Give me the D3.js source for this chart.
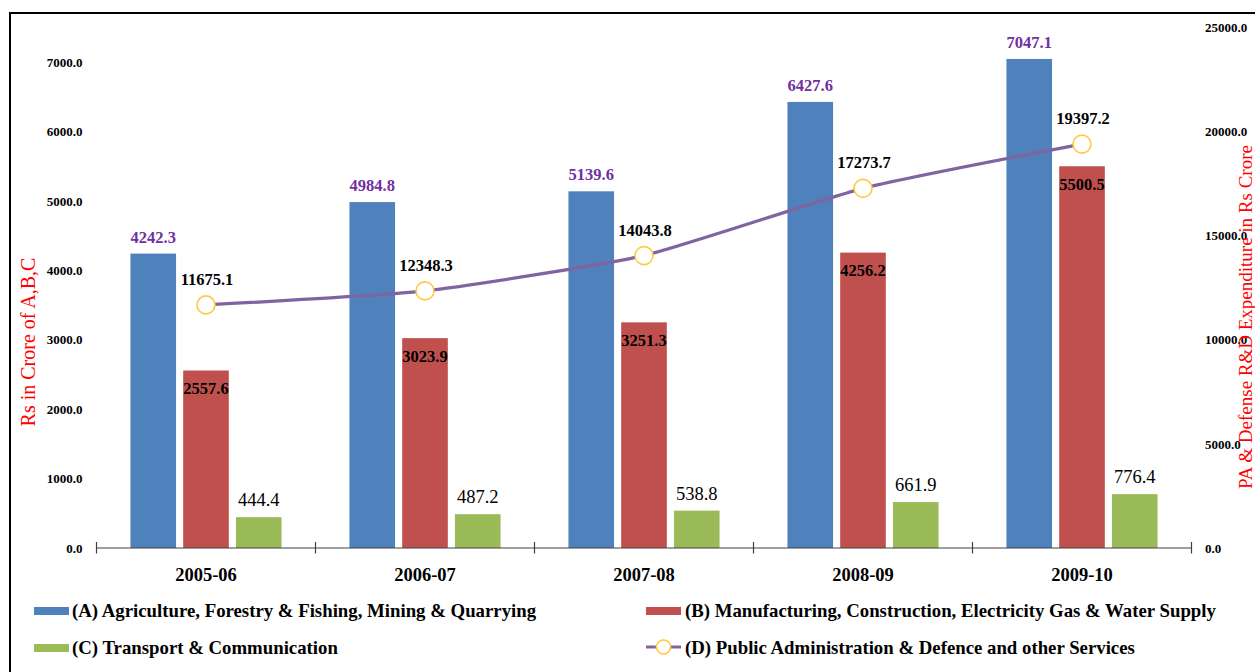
<!DOCTYPE html>
<html>
<head>
<meta charset="utf-8">
<script src="https://cdn.jsdelivr.net/npm/d3@7"></script>
<style>
  html, body { margin: 0; padding: 0; background: #fff; }
  svg { display: block; font-family: "Liberation Serif", "Times New Roman", serif; }
</style>
</head>
<body>
<svg id="chart" width="1255" height="672"></svg>
<script>
// ---- data ----
const categories = ["2005-06", "2006-07", "2007-08", "2008-09", "2009-10"];
const seriesA = [4242.3, 4984.8, 5139.6, 6427.6, 7047.1];   // Agriculture ...
const seriesB = [2557.6, 3023.9, 3251.3, 4256.2, 5500.5];   // Manufacturing ...
const seriesC = [444.4, 487.2, 538.8, 661.9, 776.4];        // Transport ...
const seriesD = [11675.1, 12348.3, 14043.8, 17273.7, 19397.2]; // Public Admin (right axis)
const leftTicks = [0, 1000, 2000, 3000, 4000, 5000, 6000, 7000];
const rightTicks = [0, 5000, 10000, 15000, 20000, 25000];
const seriesNames = [
  "(A) Agriculture, Forestry & Fishing, Mining & Quarrying",
  "(B) Manufacturing, Construction, Electricity Gas & Water Supply",
  "(C) Transport & Communication",
  "(D) Public Administration & Defence and other Services"
];
const leftTitle = "Rs in Crore of A,B,C";
const rightTitle = "PA & Defense R&D Expenditure in Rs Crore";

// ---- styles ----
const colA = "#4F81BD", colB = "#C0504D", colC = "#9BBB59", colD = "#8064A2";
const markerStroke = "#FFC940";

const svg = d3.select("#chart");
const X0 = 96.5, X1 = 1191.5, Y0 = 548, YTOP = 27.5;

// frame lines (top and left)
svg.append("rect").attr("x", 9).attr("y", 12).attr("width", 1255 - 9).attr("height", 2).attr("fill", "#000");
svg.append("rect").attr("x", 9).attr("y", 12).attr("width", 2).attr("height", 672 - 12).attr("fill", "#000");

const x = d3.scaleBand().domain(categories).range([X0, X1]).paddingInner(0).paddingOuter(0);
const bw = x.bandwidth();
const xs = d3.scaleBand().domain(["A", "B", "C"]).range([bw * 0.155, bw * 0.845]).paddingInner(0.135);
const yL = d3.scaleLinear().domain([0, 7500]).range([Y0, YTOP]);
const yR = d3.scaleLinear().domain([0, 25000]).range([Y0, YTOP]);

// left axis labels
const gL = svg.append("g").attr("transform", `translate(${X0},0)`)
  .call(d3.axisLeft(yL).tickValues(leftTicks).tickFormat(d3.format(".1f")).tickSize(0).tickPadding(14));
gL.select(".domain").remove();
gL.selectAll("text").attr("font-family", "Liberation Serif").attr("font-weight", "bold").attr("font-size", 13).attr("fill", "#000");

// right axis labels
const gR = svg.append("g").attr("transform", `translate(${X1},0)`)
  .call(d3.axisRight(yR).tickValues(rightTicks).tickFormat(d3.format(".1f")).tickSize(0).tickPadding(13.5));
gR.select(".domain").remove();
gR.selectAll("text").attr("font-family", "Liberation Serif").attr("font-weight", "bold").attr("font-size", 13).attr("fill", "#000");

// bars
const bars = [
  { key: "A", vals: seriesA, color: colA },
  { key: "B", vals: seriesB, color: colB },
  { key: "C", vals: seriesC, color: colC }
];
bars.forEach(s => {
  svg.append("g").selectAll("rect").data(categories).join("rect")
    .attr("x", (c) => x(c) + xs(s.key))
    .attr("width", xs.bandwidth())
    .attr("y", (c, i) => yL(s.vals[i]))
    .attr("height", (c, i) => Y0 - yL(s.vals[i]))
    .attr("fill", s.color);
});

// x axis line
const gX = svg.append("g").attr("transform", `translate(0,${Y0})`);
gX.append("line").attr("x1", X0).attr("x2", X1).attr("y1", 0).attr("y2", 0).attr("stroke", "#404040").attr("stroke-width", 1.2);
const bounds = categories.map(c => x(c)).concat([x.range()[1]]);
gX.selectAll("line.tick").data(bounds).join("line").attr("class", "tick")
  .attr("x1", d => d).attr("x2", d => d).attr("y1", -6).attr("y2", 5.5)
  .attr("stroke", "#404040").attr("stroke-width", 1.2);
gX.selectAll("text").data(categories).join("text")
  .attr("x", c => x(c) + bw / 2).attr("y", 33)
  .attr("text-anchor", "middle").attr("font-weight", "bold").attr("font-size", 18.5)
  .text(c => c);

// line D
const lineGen = d3.line()
  .x((d, i) => x(categories[i]) + bw / 2)
  .y(d => yR(d))
  .curve(d3.curveCardinal.tension(0.5));
svg.append("path").datum(seriesD).attr("d", lineGen)
  .attr("fill", "none").attr("stroke", colD).attr("stroke-width", 3.2);
svg.append("g").selectAll("circle").data(seriesD).join("circle")
  .attr("cx", (d, i) => x(categories[i]) + bw / 2).attr("cy", d => yR(d)).attr("r", 9)
  .attr("fill", "#fff").attr("stroke", markerStroke).attr("stroke-width", 1.6);

// labels
const lab = svg.append("g");
lab.selectAll("text.la").data(seriesA).join("text").attr("class", "la")
  .attr("x", (d, i) => x(categories[i]) + xs("A") + xs.bandwidth() / 2)
  .attr("y", d => yL(d) - 11)
  .attr("text-anchor", "middle").attr("font-weight", "bold").attr("font-size", 16.5).attr("fill", "#7030A0")
  .text(d => d.toFixed(1));
lab.selectAll("text.lb").data(seriesB).join("text").attr("class", "lb")
  .attr("x", (d, i) => x(categories[i]) + xs("B") + xs.bandwidth() / 2)
  .attr("y", d => yL(d) + 23.5)
  .attr("text-anchor", "middle").attr("font-weight", "bold").attr("font-size", 16.5).attr("fill", "#000")
  .text(d => d.toFixed(1));
lab.selectAll("text.lc").data(seriesC).join("text").attr("class", "lc")
  .attr("x", (d, i) => x(categories[i]) + xs("C") + xs.bandwidth() / 2)
  .attr("y", d => yL(d) - 11)
  .attr("text-anchor", "middle").attr("font-size", 18.5).attr("fill", "#000")
  .text(d => d.toFixed(1));
lab.selectAll("text.ld").data(seriesD).join("text").attr("class", "ld")
  .attr("x", (d, i) => x(categories[i]) + bw / 2 + 1)
  .attr("y", d => yR(d) - 20)
  .attr("text-anchor", "middle").attr("font-weight", "bold").attr("font-size", 16.5).attr("fill", "#000")
  .text(d => d.toFixed(1));

// axis titles
svg.append("text").attr("transform", "translate(35,342) rotate(-90)")
  .attr("text-anchor", "middle").attr("font-size", 20).attr("fill", "#FF0000").text(leftTitle);
svg.append("text").attr("transform", "translate(1252,317) rotate(-90)")
  .attr("text-anchor", "middle").attr("font-size", 19).attr("fill", "#FF0000").text(rightTitle);

// legend
const leg = svg.append("g").attr("font-weight", "bold").attr("font-size", 18.8);
const legItems = [
  { name: seriesNames[0], color: colA, type: "rect", sx: 34, tx: 72, y: 617 },
  { name: seriesNames[1], color: colB, type: "rect", sx: 646, tx: 685, y: 617 },
  { name: seriesNames[2], color: colC, type: "rect", sx: 34, tx: 72, y: 654 },
  { name: seriesNames[3], color: colD, type: "line", sx: 646, tx: 685, y: 654 }
];
legItems.forEach(it => {
  if (it.type === "rect") {
    leg.append("rect").attr("x", it.sx).attr("y", it.y - 10).attr("width", 35).attr("height", 8).attr("fill", it.color);
  } else {
    leg.append("line").attr("x1", it.sx).attr("x2", it.sx + 35).attr("y1", it.y - 7).attr("y2", it.y - 7)
      .attr("stroke", it.color).attr("stroke-width", 3.2);
    leg.append("circle").attr("cx", it.sx + 17.5).attr("cy", it.y - 7).attr("r", 7)
      .attr("fill", "#fff").attr("stroke", markerStroke).attr("stroke-width", 1.6);
  }
  leg.append("text").attr("x", it.tx).attr("y", it.y).attr("fill", "#000").text(it.name);
});
</script>
</body>
</html>
